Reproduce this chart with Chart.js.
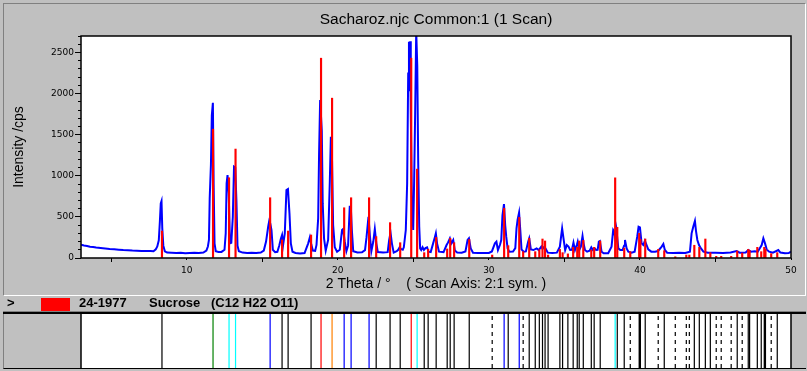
<!DOCTYPE html>
<html>
<head>
<meta charset="utf-8">
<title>Sacharoz.njc Common:1 (1 Scan)</title>
<script src="https://cdn.jsdelivr.net/npm/chart.js"></script>
<style>
  body { margin: 0; width: 807px; height: 371px; background: #c0c0c0; position: relative; overflow: hidden;
         font-family: "Liberation Sans", Arial, sans-serif; }
  .abs { position: absolute; }
  #scanFrame { left: 3px; top: 3px; width: 803px; height: 293px; box-sizing: border-box;
               border-top: 1px solid #808080; border-left: 1px solid #808080;
               border-right: 1px solid #fff; border-bottom: 1px solid #fff; }
  #scan { left: 0; top: 0; }
  .strip { top: 296px; font-weight: bold; font-size: 13px; line-height: 13px; color: #000; white-space: pre; }
  #swatch { left: 41px; top: 298px; width: 29px; height: 13px; background: #ff0000; }
  #panel { left: 3px; top: 311px; width: 803px; height: 58px; box-sizing: border-box;
           border-top: 1px solid #808080; border-left: 1px solid #808080; border-bottom: 1px solid #000; }
  #panelTop { left: 3px; top: 312px; width: 803px; height: 2px; background: #000; }
  #sticks { left: 0; top: 314px; }
</style>
</head>
<body>
<div id="scanFrame" class="abs"></div>
<canvas id="scan" class="abs" width="807" height="296"></canvas>

<div class="abs strip" style="left:7px">&gt;</div>
<div id="swatch" class="abs"></div>
<div class="abs strip" style="left:79px">24-1977</div>
<div class="abs strip" style="left:149px">Sucrose</div>
<div class="abs strip" style="left:211px">(C12 H22 O11)</div>

<div id="panel" class="abs"></div>
<div id="panelTop" class="abs"></div>
<canvas id="sticks" class="abs" width="807" height="54"></canvas>

<script>
// measured scan (2 Theta in degrees, intensity in cps)
const scanTheta = [
  3.0, 3.2, 3.4, 3.6, 3.8, 4.0, 4.3, 4.6, 4.9, 5.2, 5.5, 5.8, 6.1, 6.4, 6.7, 7.0, 7.3, 7.6, 7.8,
  7.95, 8.05, 8.15, 8.22, 8.28, 8.33, 8.38, 8.45, 8.55, 8.7, 9.0, 9.3, 9.6, 9.9, 10.2, 10.5, 10.8,
  11.1, 11.3, 11.4, 11.47, 11.52, 11.6, 11.66, 11.73, 11.78, 11.84, 11.92, 12.1, 12.3, 12.5, 12.58,
  12.64, 12.7, 12.78, 12.86, 12.95, 13.05, 13.13, 13.21, 13.29, 13.36, 13.45, 13.7, 14.0, 14.3,
  14.6, 14.9, 15.1, 15.25, 15.39, 15.46, 15.53, 15.61, 15.7, 15.85, 16.0, 16.12, 16.23, 16.31,
  16.38, 16.49, 16.6, 16.7, 16.8, 16.89, 17.0, 17.2, 17.5, 17.8, 18.04, 18.15, 18.25, 18.35, 18.5,
  18.59, 18.7, 18.76, 18.83, 18.94, 19.0, 19.09, 19.2, 19.36, 19.47, 19.54, 19.6, 19.69, 19.8,
  19.95, 20.13, 20.28, 20.35, 20.46, 20.57, 20.68, 20.79, 20.86, 20.93, 21.02, 21.3, 21.6, 21.8,
  21.9, 22.03, 22.12, 22.22, 22.35, 22.45, 22.55, 22.65, 23.0, 23.3, 23.4, 23.49, 23.58, 23.7,
  23.9, 24.0, 24.09, 24.17, 24.3, 24.37, 24.5, 24.59, 24.66, 24.71, 24.75, 24.79, 24.83, 24.9,
  24.99, 25.05, 25.12, 25.19, 25.26, 25.32, 25.39, 25.45, 25.52, 25.61, 25.7, 25.8, 25.91, 26.0,
  26.15, 26.31, 26.42, 26.49, 26.57, 26.7, 27.0, 27.2, 27.3, 27.42, 27.52, 27.64, 27.75, 27.9,
  28.2, 28.45, 28.59, 28.68, 28.8, 28.95, 29.3, 29.7, 30.0, 30.2, 30.4, 30.5, 30.6, 30.73, 30.82,
  30.9, 31.0, 31.08, 31.15, 31.24, 31.35, 31.6, 31.75, 31.83, 31.9, 32.0, 32.08, 32.16, 32.3,
  32.45, 32.6, 32.67, 32.78, 32.95, 33.16, 33.3, 33.47, 33.55, 33.63, 33.75, 33.9, 34.2, 34.5,
  34.7, 34.78, 34.85, 34.94, 35.05, 35.16, 35.27, 35.38, 35.5, 35.6, 35.7, 35.82, 35.88, 35.98,
  36.09, 36.2, 36.27, 36.36, 36.5, 36.67, 36.78, 36.88, 37.0, 37.1, 37.2, 37.28, 37.35, 37.46,
  37.6, 37.9, 38.12, 38.23, 38.3, 38.39, 38.45, 38.57, 38.7, 38.85, 38.95, 39.01, 39.12, 39.23,
  39.45, 39.65, 39.82, 39.91, 40.0, 40.11, 40.22, 40.33, 40.44, 40.55, 40.75, 41.0, 41.2, 41.44,
  41.55, 41.65, 41.8, 42.2, 42.6, 43.0, 43.31, 43.42, 43.53, 43.64, 43.71, 43.8, 43.91, 44.04,
  44.2, 44.5, 45.0, 45.5, 46.0, 46.4, 46.6, 47.0, 47.17, 47.35, 47.6, 47.8, 48.06, 48.17, 48.28,
  48.39, 48.55, 48.8, 49.16, 49.3, 49.6, 49.85, 50.0
];
const scanCounts = [
  160, 152, 146, 138, 134, 127, 121, 116, 110, 106, 101, 97, 95, 90, 88, 86, 84, 86, 82,
  105, 140, 215, 441, 664, 692, 360, 150, 82, 66, 63, 60, 64, 59, 61, 63, 60,
  66, 90, 140, 219, 725, 1130, 1737, 1887, 887, 178, 82, 72, 74, 100, 300,
  907, 1008, 786, 178, 185, 502, 1110, 1100, 692, 150, 82, 66, 61, 63,
  60, 66, 90, 200, 380, 450, 420, 340, 100, 72, 76, 150, 235, 280,
  160, 300, 826, 838, 543, 178, 76, 61, 56, 61, 178, 251, 160, 90, 86,
  160, 482, 1272, 1920, 1547, 664, 235, 90, 219, 927, 1474, 1373, 401, 130,
  76, 100, 340, 352, 198, 82, 150, 624, 624, 340, 82, 66, 69, 96,
  250, 502, 280, 82, 200, 352, 178, 72, 66, 71, 220, 308, 178, 66,
  82, 100, 130, 110, 100, 130, 340, 907, 2244, 2630, 2029, 2637, 1758, 745,
  340, 907, 1758, 2760, 2333, 1190, 380, 117, 97, 130, 97, 120, 130, 77,
  72, 178, 250, 300, 178, 77, 72, 158, 190, 239, 180, 219, 90, 66,
  65, 80, 219, 239, 117, 65, 62, 60, 62, 80, 178, 198, 97, 158, 219,
  518, 656, 400, 259, 117, 77, 78, 120, 360, 462, 551, 340, 105, 77,
  80, 198, 239, 105, 97, 117, 97, 138, 110, 130, 117, 65, 62, 65,
  138, 259, 360, 239, 97, 158, 138, 97, 100, 186, 97, 158, 198, 97,
  138, 267, 178, 97, 77, 90, 130, 97, 117, 97, 100, 198, 206, 77,
  57, 57, 138, 340, 320, 219, 330, 117, 97, 97, 150, 219, 117, 77,
  65, 77, 259, 380, 372, 178, 158, 210, 158, 105, 77, 77, 85, 138,
  170, 97, 65, 62, 65, 62, 77, 300, 380, 450, 330, 219, 158, 117,
  77, 65, 65, 62, 66, 85, 65, 68, 97, 77, 82, 77, 158, 239, 178,
  105, 77, 65, 97, 66, 57, 60, 77
];

// reference pattern 24-1977 Sucrose: line positions and intensities
const stickTheta = [
  8.36, 11.74, 12.80, 13.23, 15.52, 16.31, 16.71, 18.23, 18.89, 19.62, 20.42, 20.88, 22.07, 22.54,
  23.46, 24.13, 24.86, 25.25, 25.72, 25.98, 26.51, 27.24, 27.44, 27.70, 28.70, 30.22, 31.01, 31.28,
  32.01, 32.27, 32.67, 33.07, 33.34, 33.55, 33.72, 33.92, 34.70, 34.88, 35.23, 35.58, 35.85, 35.98,
  36.25, 36.78, 36.97, 37.37, 38.36, 38.50, 38.96, 39.36, 39.95, 40.03, 40.35, 41.21, 41.61, 42.34,
  43.07, 43.27, 43.60, 43.93, 44.33, 44.66, 45.05, 45.38, 46.04, 46.44, 46.77, 47.17, 47.26, 47.77,
  48.03, 48.23, 48.31, 48.69, 49.09
];
const stickCounts = [
  328, 1567, 976, 1325, 733, 220, 328, 280, 2430, 1944, 611, 733, 733, 260,
  430, 186, 2430, 1081, 65, 105, 250, 110, 239, 186, 225, 36, 605, 150,
  494, 77, 240, 77, 100, 231, 207, 36, 105, 65, 50, 130, 130, 207,
  214, 97, 130, 206, 975, 373, 120, 77, 300, 225, 231, 105, 89, 15,
  36, 36, 155, 130, 231, 65, 20, 20, 20, 85, 60, 105, 90, 130,
  77, 130, 105, 53, 65
];

// line groups of the lower pattern strip (2 Theta)
const greenLines = [11.74];
const cyanLines = [12.80, 13.23, 25.25, 38.36];
const blueLines = [15.52, 20.42, 20.88, 22.07, 31.01, 32.01];
const redLines = [18.89, 24.86];
const orangeLines = [19.62];
const dashedLines = [30.22, 32.27, 39.36, 41.21, 42.34, 43.07, 43.27, 45.05, 45.38, 46.04, 46.77, 48.69];
const markedLines = [].concat(greenLines, cyanLines, blueLines, redLines, orangeLines, dashedLines);
const blackLines = stickTheta.filter(t => !markedLines.includes(t));

// axes
const thetaRange = [3, 50];
const countRange = [0, 2700];
const countLabels = [0, 500, 1000, 1500, 2000, 2500];

const sans = '"Liberation Sans", Arial, sans-serif';
const tickFont = { family: '"DejaVu Sans", sans-serif', size: 9 };

// white plot area with black frame
const plotFrame = {
  id: 'plotFrame',
  beforeDraw(chart) {
    const { ctx, chartArea: a } = chart;
    ctx.save();
    ctx.fillStyle = '#ffffff';
    ctx.fillRect(a.left, a.top, a.width, a.height);
    ctx.restore();
  },
  afterDraw(chart, args, opts) {
    const { ctx, chartArea: a } = chart;
    ctx.save();
    ctx.strokeStyle = '#000';
    ctx.lineWidth = 1.5;
    if (opts.box) {
      ctx.strokeRect(a.left, a.top, a.width, a.height);
    } else {
      ctx.beginPath();
      ctx.moveTo(a.left, a.top); ctx.lineTo(a.left, a.bottom);
      ctx.moveTo(a.right, a.top); ctx.lineTo(a.right, a.bottom);
      ctx.stroke();
    }
    ctx.restore();
  }
};

new Chart(document.getElementById('scan'), {
  type: 'line',
  data: {
    datasets: [
      {
        type: 'bar',
        label: '24-1977 Sucrose',
        data: stickTheta.map((t, i) => ({ x: t, y: stickCounts[i] })),
        xAxisID: 'x', yAxisID: 'y',
        backgroundColor: '#ff0000',
        barThickness: 1.5,
        grouped: false,
        order: 0
      },
      {
        type: 'line',
        label: 'Sacharoz.njc',
        data: scanTheta.map((t, i) => ({ x: t, y: scanCounts[i] })),
        xAxisID: 'x', yAxisID: 'y',
        borderColor: '#0000ff',
        borderWidth: 2,
        pointRadius: 0,
        tension: 0,
        order: 1
      }
    ]
  },
  options: {
    responsive: false,
    animation: false,
    events: [],
    layout: { padding: { left: 0, right: 16, top: 0, bottom: 0 } },
    plugins: {
      legend: { display: false },
      tooltip: { enabled: false },
      title: {
        display: true,
        fullSize: false,
        text: 'Sacharoz.njc Common:1 (1 Scan)',
        color: '#000',
        font: { family: sans, size: 15.5, weight: 'normal' },
        padding: { top: 10, bottom: 7.4 }
      },
      plotFrame: { box: true }
    },
    scales: {
      xMinor: {
        type: 'linear', position: 'bottom', weight: 0,
        min: thetaRange[0], max: thetaRange[1], offset: false,
        ticks: { stepSize: 5, includeBounds: false, display: false },
        grid: { drawOnChartArea: false, tickLength: 2, color: '#000' },
        border: { display: false },
        afterFit(s) { s.height = 0; s.paddingLeft = 0; s.paddingRight = 0; }
      },
      x: {
        type: 'linear', position: 'bottom', weight: 1,
        min: thetaRange[0], max: thetaRange[1], offset: false,
        ticks: { stepSize: 10, includeBounds: false, autoSkip: false, maxRotation: 0,
                 padding: 3, color: '#000', font: tickFont },
        grid: { drawOnChartArea: false, tickLength: 4, color: '#000' },
        border: { display: false },
        title: { display: true, text: '2 Theta / °    ( Scan Axis: 2:1 sym. )', color: '#000',
                 font: { family: sans, size: 14 }, padding: { top: 0, bottom: 3 } },
        afterFit(s) { s.height = 38; s.paddingLeft = 0; s.paddingRight = 0; }
      },
      y: {
        type: 'linear', position: 'left', weight: 1,
        min: countRange[0], max: countRange[1],
        afterBuildTicks(s) { s.ticks = countLabels.map(v => ({ value: v })); },
        ticks: { autoSkip: false, padding: 1, color: '#000', font: tickFont, callback: v => String(v) },
        grid: { drawOnChartArea: false, tickLength: 6, color: '#000' },
        border: { display: false },
        title: { display: true, text: 'Intensity /cps', color: '#000',
                 font: { family: sans, size: 14 }, padding: { top: 11, bottom: 0 } },
        afterFit(s) { s.width = 81; s.paddingTop = 0; s.paddingBottom = 0; }
      },
      yMinor: {
        type: 'linear', position: 'left', weight: 0,
        min: countRange[0], max: countRange[1],
        ticks: { stepSize: 100, display: false },
        grid: { drawOnChartArea: false, tickLength: 3, color: '#000' },
        border: { display: false },
        afterFit(s) { s.width = 0; s.paddingTop = 0; s.paddingBottom = 0; }
      }
    }
  },
  plugins: [plotFrame]
});

// full-height marker lines for the pattern strip
function markers(list) {
  const pts = [];
  list.forEach(t => { pts.push({ x: t, y: 0 }, { x: t, y: 1 }, { x: t, y: null }); });
  return pts;
}
function lineSet(list, color, dash) {
  return { data: markers(list), borderColor: color, borderWidth: 1.2, borderDash: dash || [],
           pointRadius: 0, spanGaps: false, tension: 0 };
}

new Chart(document.getElementById('sticks'), {
  type: 'line',
  data: {
    datasets: [
      lineSet(blackLines, '#000000'),
      lineSet(dashedLines, '#000000', [4, 4]),
      lineSet(greenLines, '#008000'),
      lineSet(cyanLines, '#00ffff'),
      lineSet(blueLines, '#0000ff'),
      lineSet(redLines, '#ff0000'),
      lineSet(orangeLines, '#ff8000')
    ]
  },
  options: {
    responsive: false,
    animation: false,
    events: [],
    layout: { padding: { left: 81, right: 16, top: 0, bottom: 0 } },
    plugins: { legend: { display: false }, tooltip: { enabled: false }, plotFrame: { box: false } },
    scales: {
      x: { type: 'linear', min: thetaRange[0], max: thetaRange[1], display: false, offset: false },
      y: { type: 'linear', min: 0, max: 1, display: false }
    }
  },
  plugins: [plotFrame]
});
</script>
</body>
</html>
